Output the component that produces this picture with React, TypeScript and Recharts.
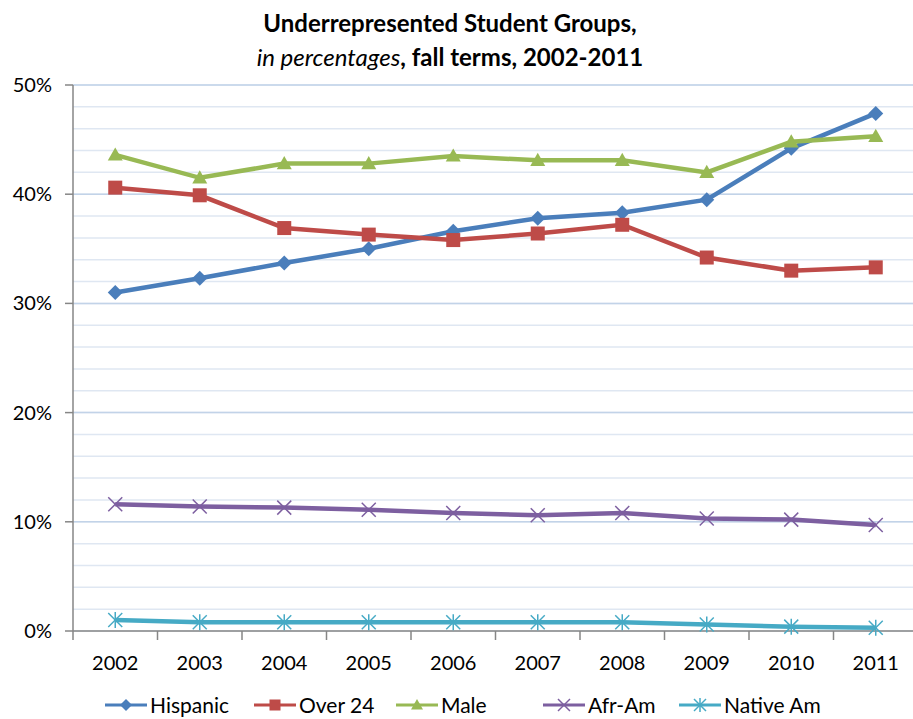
import React from 'react';
import { LineChart, Line, XAxis, YAxis, CartesianGrid, ReferenceLine } from 'recharts';

const years = ['2002', '2003', '2004', '2005', '2006', '2007', '2008', '2009', '2010', '2011'];
const hispanic = [31.0, 32.3, 33.7, 35.0, 36.6, 37.8, 38.3, 39.5, 44.2, 47.4];
const over24 = [40.6, 39.9, 36.9, 36.3, 35.8, 36.4, 37.2, 34.2, 33.0, 33.3];
const male = [43.6, 41.5, 42.8, 42.8, 43.5, 43.1, 43.1, 42.0, 44.8, 45.3];
const afrAm = [11.6, 11.4, 11.3, 11.1, 10.8, 10.6, 10.8, 10.3, 10.2, 9.7];
const nativeAm = [1.0, 0.8, 0.8, 0.8, 0.8, 0.8, 0.8, 0.6, 0.4, 0.3];
const yTicks = [0, 2, 4, 6, 8, 10, 12, 14, 16, 18, 20, 22, 24, 26, 28, 30, 32, 34, 36, 38, 40, 42, 44, 46, 48, 50];
const majorTicks = [10, 20, 30, 40, 50];

type Shape = 'diamond' | 'square' | 'triangle' | 'cross' | 'star';

const series: { key: string; name: string; color: string; shape: Shape; values: number[] }[] = [
  { key: 'hispanic', name: 'Hispanic', color: '#4a7ebb', shape: 'diamond', values: hispanic },
  { key: 'over24', name: 'Over 24', color: '#be4b48', shape: 'square', values: over24 },
  { key: 'male', name: 'Male', color: '#98b954', shape: 'triangle', values: male },
  { key: 'afrAm', name: 'Afr-Am', color: '#7d5fa0', shape: 'cross', values: afrAm },
  { key: 'nativeAm', name: 'Native Am', color: '#46aac5', shape: 'star', values: nativeAm },
];

const data = years.map((year, i) => {
  const row: Record<string, string | number> = { year };
  series.forEach((s) => (row[s.key] = s.values[i]));
  return row;
});

const FONT = 'Lato, "Open Sans", sans-serif';
const W = 930;
const H = 719;
const LEFT = 73;
const RIGHT = 918;
const TOP = 85;
const BOTTOM = 631;
const BAND = (RIGHT - LEFT) / years.length;

const Marker = ({ cx, cy, shape, color, r = 7.5 }: { cx: number; cy: number; shape: Shape; color: string; r?: number }) => {
  if (cx == null || cy == null) return null;
  switch (shape) {
    case 'diamond':
      return <path d={`M${cx},${cy - r}L${cx + r},${cy}L${cx},${cy + r}L${cx - r},${cy}Z`} fill={color} />;
    case 'square':
      return <rect x={cx - r + 0.5} y={cy - r + 0.5} width={2 * r - 1} height={2 * r - 1} fill={color} />;
    case 'triangle':
      return <path d={`M${cx},${cy - r}L${cx + r},${cy + r * 0.75}L${cx - r},${cy + r * 0.75}Z`} fill={color} />;
    case 'cross':
      return (
        <g stroke={color} strokeWidth={1.5}>
          <line x1={cx - r} y1={cy - r} x2={cx + r} y2={cy + r} />
          <line x1={cx - r} y1={cy + r} x2={cx + r} y2={cy - r} />
        </g>
      );
    default:
      return (
        <g stroke={color} strokeWidth={1.5}>
          <line x1={cx - r} y1={cy - r} x2={cx + r} y2={cy + r} />
          <line x1={cx - r} y1={cy + r} x2={cx + r} y2={cy - r} />
          <line x1={cx} y1={cy - r - 1} x2={cx} y2={cy + r + 1} />
        </g>
      );
  }
};

const XTick = (props: any) => {
  const { x, payload } = props;
  return (
    <g>
      <line x1={x - BAND / 2} y1={BOTTOM} x2={x - BAND / 2} y2={BOTTOM + 9} stroke="#868686" strokeWidth={1.5} />
      <text x={x} y={BOTTOM + 39} textAnchor="middle" fontSize={20} fontFamily={FONT} fill="#000">
        {payload.value}
      </text>
    </g>
  );
};

const YTick = (props: any) => {
  const { y, payload } = props;
  if (payload.value % 10 !== 0) return null;
  return (
    <g>
      <line x1={LEFT - 8} y1={y} x2={LEFT} y2={y} stroke="#868686" strokeWidth={1.5} />
      <text x={52} y={y + 7} textAnchor="end" fontSize={20} fontFamily={FONT} fill="#000">
        {`${payload.value}%`}
      </text>
    </g>
  );
};

// legend row under the axis, one swatch per series
const LegendRow = () => {
  const lefts = [105, 254, 396, 543, 679];
  const cy = 705;
  return (
    <svg style={{ position: 'absolute', top: 0, left: 0 }} width={913} height={H}>
      {series.map((s, i) => (
        <g key={s.key}>
          <line x1={lefts[i]} y1={cy} x2={lefts[i] + 42} y2={cy} stroke={s.color} strokeWidth={3} />
          <Marker cx={lefts[i] + 21} cy={cy} shape={s.shape} color={s.color} r={6} />
          <text x={lefts[i] + 45} y={cy + 7.5} fontSize={21} fontFamily={FONT} fill="#000">
            {s.name}
          </text>
        </g>
      ))}
    </svg>
  );
};

export default function App() {
  return (
    <div style={{ position: 'fixed', top: 0, left: 0, width: 913, height: H, overflow: 'hidden', background: '#fff' }}>
      <div
        style={{
          position: 'absolute',
          top: 6,
          left: 0,
          width: 900,
          textAlign: 'center',
          fontFamily: FONT,
          fontSize: 24,
          lineHeight: '34px',
          color: '#000',
        }}
      >
        <div style={{ fontWeight: 700 }}>Underrepresented Student Groups,</div>
        <div>
          <span style={{ fontStyle: 'italic' }}>in percentages</span>
          <span style={{ fontWeight: 700 }}>, fall terms, 2002-2011</span>
        </div>
      </div>
      <div style={{ position: 'absolute', top: 0, left: 0 }}>
        <LineChart width={W} height={H} data={data} margin={{ top: TOP, right: W - RIGHT, left: 0, bottom: 0 }}>
          <CartesianGrid vertical={false} stroke="#dfe7f2" strokeWidth={1.5} />
          {majorTicks.map((t) => (
            <ReferenceLine key={t} y={t} stroke="#c2d3e8" strokeWidth={1.5} />
          ))}
          <XAxis
            dataKey="year"
            height={H - BOTTOM}
            padding={{ left: BAND / 2, right: BAND / 2 }}
            axisLine={{ stroke: '#868686', strokeWidth: 1.5 }}
            tickLine={false}
            tick={<XTick />}
            interval={0}
          />
          <YAxis
            width={LEFT}
            domain={[0, 50]}
            ticks={yTicks}
            interval={0}
            axisLine={{ stroke: '#868686', strokeWidth: 1.5 }}
            tickLine={false}
            tick={<YTick />}
          />
          {series.map((s) => (
            <Line
              key={s.key}
              dataKey={s.key}
              name={s.name}
              type="linear"
              stroke={s.color}
              strokeWidth={4.5}
              isAnimationActive={false}
              dot={(p: any) => (
                <Marker
                  key={`${s.key}-${p.index}`}
                  cx={p.cx}
                  cy={p.cy}
                  shape={s.shape}
                  color={s.color}
                  r={s.shape === 'cross' || s.shape === 'star' ? 7 : 7.5}
                />
              )}
              activeDot={false}
            />
          ))}
        </LineChart>
      </div>
      <LegendRow />
    </div>
  );
}
